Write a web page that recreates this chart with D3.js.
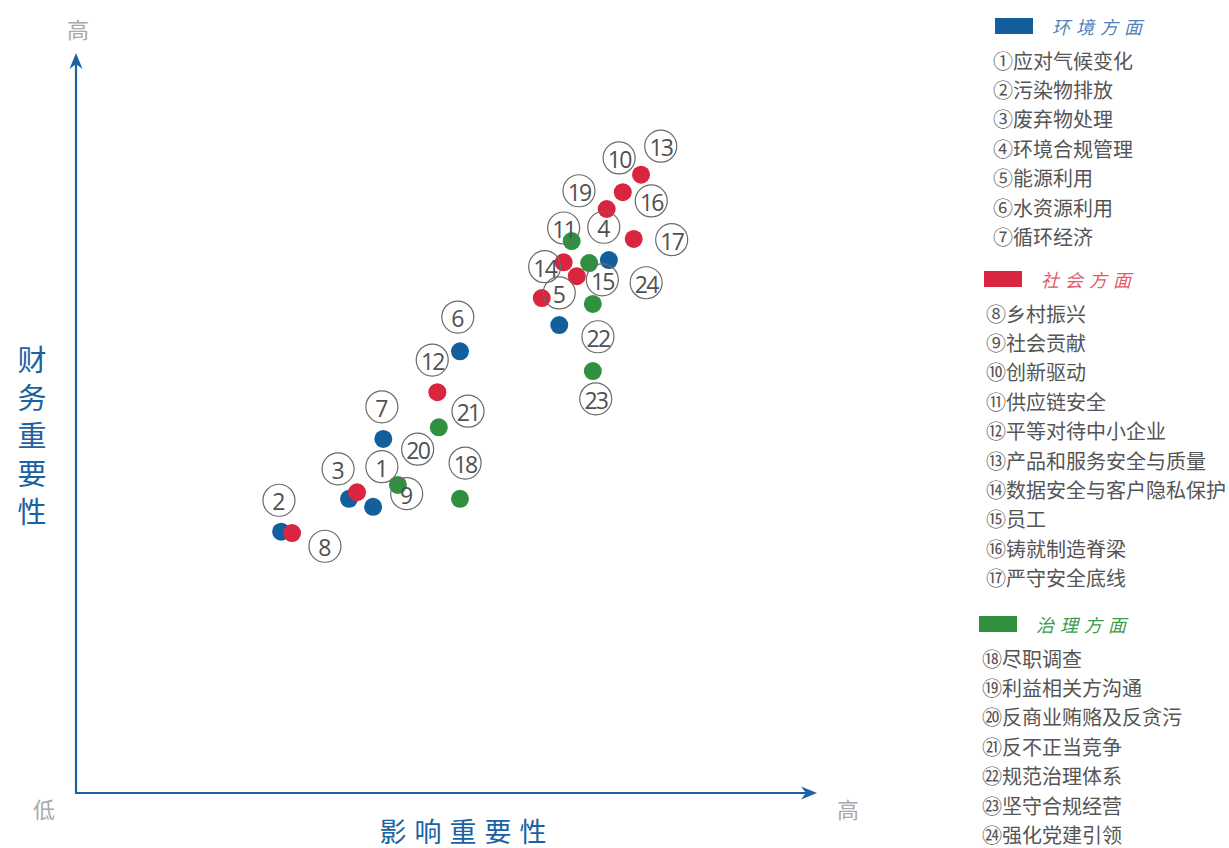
<!DOCTYPE html>
<html>
<head>
<meta charset="utf-8">
<script src="https://cdn.jsdelivr.net/npm/d3@7"></script>
<style>
  body { margin: 0; background: #fff; }
  svg { display: block; font-family: "Noto Sans CJK SC", "Noto Sans", sans-serif; }
</style>
</head>
<body>
<svg id="chart"></svg>
<script>
// groups
const groups = ["环境方面", "社会方面", "治理方面"];
const groupColors = ["#135f9e", "#d9253f", "#2f9140"];
const titleColors = ["#4f82bb", "#e25a67", "#3b9d4a"];

// issues 1..24
const issueNames = [
    "应对气候变化", "污染物排放", "废弃物处理", "环境合规管理", "能源利用", "水资源利用", "循环经济",
    "乡村振兴", "社会贡献", "创新驱动", "供应链安全", "平等对待中小企业", "产品和服务安全与质量",
    "数据安全与客户隐私保护", "员工", "铸就制造脊梁", "严守安全底线",
    "尽职调查", "利益相关方沟通", "反商业贿赂及反贪污", "反不正当竞争", "规范治理体系", "坚守合规经营", "强化党建引领"
];
const issueGroup = [0, 0, 0, 0, 0, 0, 0, 1, 1, 1, 1, 1, 1, 1, 1, 1, 1, 2, 2, 2, 2, 2, 2, 2];
const circled = ["①", "②", "③", "④", "⑤", "⑥", "⑦", "⑧", "⑨", "⑩", "⑪", "⑫", "⑬", "⑭", "⑮", "⑯", "⑰", "⑱", "⑲", "⑳", "㉑", "㉒", "㉓", "㉔"];

// 影响重要性 (x) and 财务重要性 (y), 0-10
const impact    = [4.07, 2.81, 3.74, 7.30, 6.62, 5.26, 4.21, 2.96, 3.85, 7.49, 6.68, 4.95, 7.74, 6.38, 6.86, 7.27, 7.64, 5.26, 7.03, 4.41, 4.97, 7.08, 7.08, 6.79];
const financial = [3.92, 3.58, 4.03, 7.30, 6.41, 6.05, 4.85, 3.56, 4.12, 8.23, 7.27, 5.49, 8.47, 6.78, 7.08, 8.00, 7.59, 4.03, 7.26, 4.22, 5.01, 6.70, 5.78, 7.56];

// where each number tag sits, same units
const labelX = [4.19, 2.78, 3.59, 7.23, 6.62, 5.23, 4.19, 3.41, 4.53, 7.44, 6.68, 4.88, 8.01, 6.42, 7.21, 7.88, 8.16, 5.33, 6.89, 4.68, 5.37, 7.15, 7.12, 7.81];
const labelY = [4.47, 4.01, 4.44, 7.75, 6.85, 6.52, 5.29, 3.38, 4.10, 8.70, 7.74, 5.93, 8.86, 7.21, 7.03, 8.11, 7.58, 4.52, 8.25, 4.71, 5.23, 6.25, 5.40, 6.99];

const width = 1229, height = 848;
const axisColor = "#1a62a1";
const svg = d3.select("#chart").attr("width", width).attr("height", height);

const x = d3.scaleLinear().domain([0, 10]).range([76, 806]);
const y = d3.scaleLinear().domain([0, 10]).range([793, 63]);

// axes with arrows
const x0 = x(0), y0 = y(0);
svg.append("line").attr("x1", x0).attr("y1", y0).attr("x2", x(10) + 2).attr("y2", y0)
    .attr("stroke", axisColor).attr("stroke-width", 2.2);
svg.append("line").attr("x1", x0).attr("y1", y0 + 1).attr("x2", x0).attr("y2", y(10) - 2)
    .attr("stroke", axisColor).attr("stroke-width", 2.2);
svg.append("path")
    .attr("d", `M${x(10) + 11},${y0} L${x(10) - 5},${y0 - 6.5} L${x(10)},${y0} L${x(10) - 5},${y0 + 6.5} Z`)
    .attr("fill", axisColor);
svg.append("path")
    .attr("d", `M${x0},${y(10) - 10} L${x0 - 6.5},${y(10) + 6} L${x0},${y(10) + 1} L${x0 + 6.5},${y(10) + 6} Z`)
    .attr("fill", axisColor);

// low / high marks
const lowHigh = svg.append("g").attr("fill", "#a9a9a9").attr("font-size", 22);
lowHigh.append("text").attr("x", x0 + 2).attr("y", 28).attr("text-anchor", "middle")
    .attr("dominant-baseline", "central").text("高");
lowHigh.append("text").attr("x", 44).attr("y", 808).attr("text-anchor", "middle")
    .attr("dominant-baseline", "central").text("低");
lowHigh.append("text").attr("x", 848).attr("y", 808).attr("text-anchor", "middle")
    .attr("dominant-baseline", "central").text("高");

// axis titles
svg.append("text").attr("x", 467).attr("y", 830).attr("text-anchor", "middle")
    .attr("dominant-baseline", "central").attr("fill", axisColor)
    .attr("font-size", 27).attr("letter-spacing", 8).text("影响重要性");
const yTitle = "财务重要性".split("");
svg.append("g").selectAll("text").data(yTitle).enter().append("text")
    .attr("x", 32).attr("y", (d, i) => 358 + i * 38)
    .attr("text-anchor", "middle").attr("dominant-baseline", "central")
    .attr("fill", axisColor).attr("font-size", 29).text(d => d);

// dots
const issues = issueNames.map((name, i) => ({
    num: i + 1, name, group: issueGroup[i],
    x: impact[i], y: financial[i], lx: labelX[i], ly: labelY[i]
}));

svg.append("g").selectAll("circle").data(issues).enter().append("circle")
    .attr("cx", d => x(d.x)).attr("cy", d => y(d.y)).attr("r", 9)
    .attr("fill", d => groupColors[d.group]);

// number tags
const tags = svg.append("g").selectAll("g").data(issues).enter().append("g")
    .attr("transform", d => `translate(${x(d.lx)},${y(d.ly)})`);
tags.append("circle").attr("r", 16).attr("fill", "none")
    .attr("stroke", "#6a6a6a").attr("stroke-width", 1.2);
tags.append("text").attr("text-anchor", "middle").attr("dominant-baseline", "central")
    .attr("y", 1).attr("fill", "#505050").attr("font-family", "'Open Sans', sans-serif")
    .attr("font-size", 23).attr("letter-spacing", d => d.num > 9 ? -1.8 : 0)
    .text(d => d.num);

// legend
const legendTop = [26, 279, 624];
const legendLeft = [995, 984, 979];
const itemLeft = [993, 986, 982];
const step = 29.4;

groups.forEach((g, gi) => {
    const lg = svg.append("g");
    lg.append("rect").attr("x", legendLeft[gi]).attr("y", legendTop[gi] - 8)
        .attr("width", 38).attr("height", 16).attr("fill", groupColors[gi]);
    lg.append("text").attr("x", legendLeft[gi] + 57).attr("y", legendTop[gi])
        .attr("dominant-baseline", "central").attr("font-style", "italic")
        .attr("font-size", 18).attr("letter-spacing", 6).attr("fill", titleColors[gi]).text(g);
    const items = issues.filter(d => d.group === gi);
    lg.selectAll("text.item").data(items).enter().append("text").attr("class", "item")
        .attr("x", itemLeft[gi])
        .attr("y", (d, i) => legendTop[gi] + 34 + i * step)
        .attr("dominant-baseline", "central").attr("font-size", 20).attr("fill", "#555")
        .text(d => circled[d.num - 1] + d.name);
});
</script>
</body>
</html>
